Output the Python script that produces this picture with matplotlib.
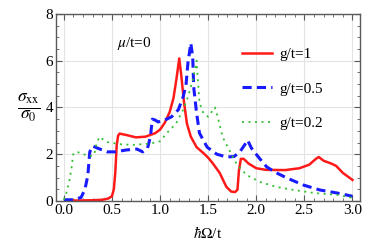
import numpy as np
import matplotlib
matplotlib.use("Agg")
import matplotlib.pyplot as plt
from matplotlib.ticker import MultipleLocator

plt.rcParams['font.family'] = 'Liberation Serif'
plt.rcParams['mathtext.fontset'] = 'stix'

# ------------------------------------------------------------------
# data (hbar*Omega/t, sigma_xx/sigma_0)
# ------------------------------------------------------------------
x_g1 = [0.05, 0.15, 0.30, 0.40, 0.46, 0.50, 0.52, 0.535, 0.55, 0.565, 0.58, 0.65, 0.75,
        0.85, 0.95, 1.00, 1.05, 1.10, 1.14, 1.17, 1.20, 1.22, 1.25, 1.28, 1.32,
        1.38, 1.45, 1.50, 1.55, 1.62, 1.69, 1.74, 1.78, 1.805, 1.82, 1.84, 1.87,
        1.92, 2.00, 2.10, 2.30, 2.45, 2.55, 2.62, 2.65, 2.70, 2.78, 2.83, 2.90, 3.00]
y_g1 = [0.02, 0.02, 0.03, 0.05, 0.10, 0.20, 0.50, 1.20, 2.40, 2.80, 2.88, 2.82, 2.72,
        2.75, 2.90, 3.05, 3.35, 3.80, 4.40, 5.20, 6.10, 5.40, 4.20, 3.30, 2.75,
        2.30, 2.05, 1.85, 1.60, 1.20, 0.60, 0.40, 0.38, 0.48, 1.30, 1.80, 1.80,
        1.60, 1.40, 1.33, 1.32, 1.40, 1.55, 1.80, 1.88, 1.72, 1.60, 1.50, 1.20, 0.90]

x_g05 = [0.00, 0.10, 0.18, 0.22, 0.25, 0.27, 0.30, 0.35, 0.45, 0.53, 0.65, 0.76,
         0.82, 0.87, 0.90, 0.92, 0.95, 0.98, 1.05, 1.12, 1.19, 1.24, 1.27, 1.29,
         1.32, 1.34, 1.35, 1.38, 1.41, 1.49, 1.59, 1.69, 1.77, 1.83, 1.88, 1.91,
         1.95, 2.03, 2.11, 2.21, 2.32, 2.49, 2.66, 2.84, 3.00]
y_g05 = [0.05, 0.05, 0.15, 0.50, 1.10, 2.10, 2.35, 2.26, 2.10, 2.10, 2.18, 2.22,
         2.10, 2.26, 2.74, 3.50, 3.46, 3.38, 3.46, 3.60, 3.90, 4.45, 4.96, 5.90,
         6.75, 6.15, 4.87, 3.76, 2.90, 2.30, 2.00, 1.88, 1.90, 2.10, 2.40, 2.60,
         2.26, 1.84, 1.45, 1.20, 0.98, 0.68, 0.47, 0.34, 0.20]

x_g02 = [0.00, 0.03, 0.06, 0.08, 0.10, 0.15, 0.24, 0.30, 0.32, 0.34, 0.37, 0.45,
         0.51, 0.60, 0.72, 0.89, 1.00, 1.07, 1.17, 1.24, 1.29, 1.34, 1.38, 1.41,
         1.45, 1.50, 1.57, 1.60, 1.65, 1.72, 1.80, 1.90, 2.04, 2.21, 2.39, 2.60,
         2.84, 3.00]
y_g02 = [0.05, 0.38, 0.90, 1.40, 2.05, 2.08, 1.95, 1.92, 2.05, 2.45, 2.74, 2.52,
         2.48, 2.42, 2.40, 2.45, 2.55, 2.90, 3.33, 3.90, 4.45, 5.17, 6.00, 4.20,
         3.76, 3.60, 4.00, 3.60, 2.74, 2.18, 1.55, 1.11, 0.81, 0.60, 0.47, 0.34,
         0.26, 0.13]

labels = ["g/t=1", "g/t=0.5", "g/t=0.2"]

fig = plt.figure(figsize=(3.74, 2.49), dpi=100)
ax = fig.add_axes([0.150, 0.193, 0.813, 0.751])

ax.plot(x_g1, y_g1, color='#ff1a1a', lw=1.8, label=labels[0])
ax.plot(x_g05, y_g05, color='#1a1aff', lw=2.2, dashes=(3.0, 1.7), label=labels[1])
ax.plot(x_g02, y_g02, color='#33c033', lw=1.3, dashes=(1.1, 2.5), label=labels[2])

ax.set_xlim(-0.08, 3.08)
ax.set_ylim(0, 8)
ax.xaxis.set_major_locator(MultipleLocator(0.5))
ax.xaxis.set_minor_locator(MultipleLocator(0.1))
ax.yaxis.set_major_locator(MultipleLocator(2))
ax.yaxis.set_minor_locator(MultipleLocator(0.5))
ax.set_xticks(np.arange(0, 3.01, 0.5))
ax.set_xticklabels([f"{v:.1f}" for v in np.arange(0, 3.01, 0.5)])
ax.set_yticks([0, 2, 4, 6, 8])

ax.grid(True, which='major', color='#e3e3e3', lw=0.8)
ax.set_axisbelow(True)
ax.tick_params(which='both', direction='in', top=True, right=True,
               labelsize=11, color='0.35', pad=2)
ax.tick_params(which='major', length=4, width=0.8)
ax.tick_params(which='minor', length=2.5, width=0.6)
for s in ax.spines.values():
    s.set_color('0.35')
    s.set_linewidth(1.0)

ax.set_xlabel(r"$\hbar\Omega$/t", fontsize=11, labelpad=6)
ax.set_ylabel(r"$\frac{\sigma_{\rm xx}}{\sigma_0}$", fontsize=18, rotation=0,
              labelpad=12, va='center')

ax.text(0.55, 6.75, r"$\mu$/t=0", fontsize=11, va='center')

ax.legend(loc='upper left', bbox_to_anchor=(0.585, 0.86), frameon=False,
          fontsize=11, handlelength=2.0, labelspacing=1.35, borderpad=0,
          handletextpad=0.5)

fig.savefig("out.png", dpi=100)
